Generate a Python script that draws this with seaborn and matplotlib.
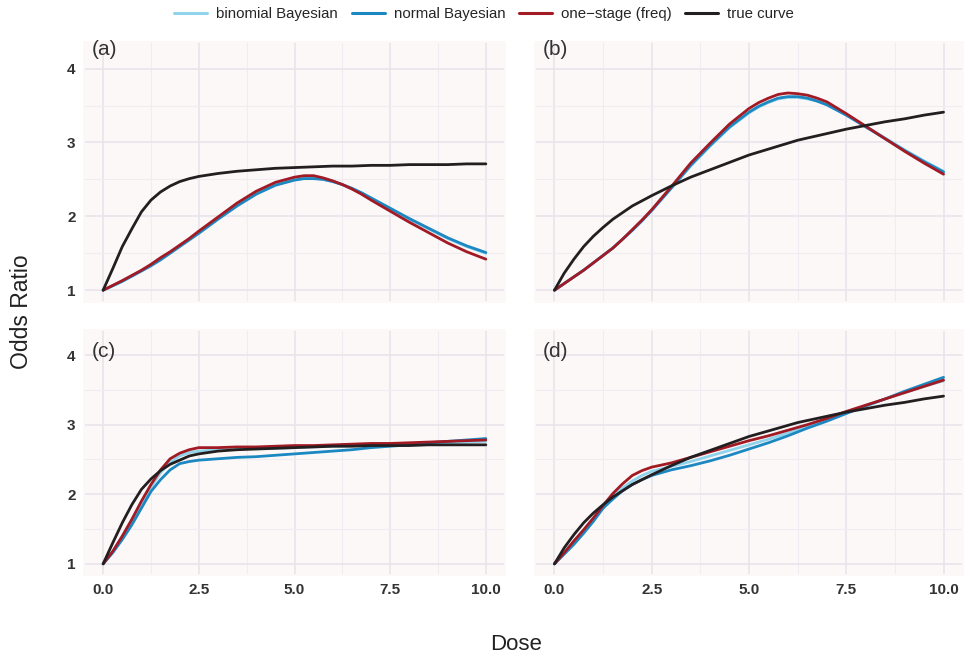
import numpy as np
import pandas as pd
import seaborn as sns
import matplotlib.pyplot as plt
from matplotlib.ticker import MultipleLocator, FormatStrFormatter

# dose grid shared by every curve (finer where the curves bend fast)
dose = [0, 0.25, 0.5, 0.75, 1, 1.25, 1.5, 1.75, 2, 2.25, 2.5,
        3, 3.5, 4, 4.5, 5, 5.25, 5.5, 5.75, 6, 6.25, 6.5, 6.75,
        7, 7.5, 8, 8.5, 9, 9.5, 10]

panels = ['(a)', '(b)', '(c)', '(d)']
methods = ['binomial Bayesian', 'normal Bayesian', 'one\u2212stage (freq)', 'true curve']

# (a)
binom_a = [1.00, 1.06, 1.12, 1.19, 1.26, 1.34, 1.42, 1.51, 1.60, 1.69, 1.78,
           1.97, 2.15, 2.31, 2.43, 2.50, 2.52, 2.52, 2.50, 2.47, 2.43, 2.37, 2.31,
           2.24, 2.10, 1.96, 1.83, 1.70, 1.59, 1.50]
normal_a = [1.00, 1.06, 1.12, 1.19, 1.26, 1.33, 1.41, 1.50, 1.59, 1.68, 1.77,
            1.96, 2.14, 2.30, 2.42, 2.49, 2.51, 2.51, 2.50, 2.47, 2.43, 2.38, 2.32,
            2.25, 2.11, 1.97, 1.84, 1.71, 1.60, 1.51]
freq_a = [1.00, 1.065, 1.13, 1.20, 1.27, 1.35, 1.44, 1.52, 1.61, 1.70, 1.80,
          1.99, 2.18, 2.34, 2.46, 2.53, 2.55, 2.55, 2.52, 2.48, 2.43, 2.37, 2.30,
          2.22, 2.07, 1.92, 1.78, 1.64, 1.52, 1.42]
true_a = [1.00, 1.29, 1.59, 1.83, 2.06, 2.22, 2.33, 2.41, 2.47, 2.51, 2.54,
          2.58, 2.61, 2.63, 2.65, 2.66, 2.665, 2.67, 2.675, 2.68, 2.68, 2.68, 2.685,
          2.69, 2.69, 2.70, 2.70, 2.70, 2.71, 2.71]

# (b)
binom_b = [1.00, 1.09, 1.18, 1.27, 1.37, 1.47, 1.57, 1.69, 1.81, 1.94, 2.08,
           2.38, 2.68, 2.95, 3.20, 3.40, 3.48, 3.54, 3.59, 3.61, 3.61, 3.59, 3.56,
           3.51, 3.37, 3.22, 3.06, 2.90, 2.75, 2.61]
normal_b = [1.00, 1.09, 1.18, 1.27, 1.37, 1.47, 1.57, 1.69, 1.81, 1.94, 2.08,
            2.38, 2.69, 2.96, 3.21, 3.41, 3.49, 3.55, 3.60, 3.62, 3.62, 3.60, 3.56,
            3.51, 3.37, 3.21, 3.05, 2.89, 2.74, 2.60]
freq_b = [1.00, 1.09, 1.18, 1.27, 1.37, 1.47, 1.57, 1.69, 1.82, 1.95, 2.09,
          2.40, 2.72, 2.99, 3.25, 3.46, 3.54, 3.60, 3.65, 3.67, 3.66, 3.64, 3.60,
          3.55, 3.39, 3.22, 3.05, 2.88, 2.72, 2.57]
true_b = [1.00, 1.23, 1.42, 1.59, 1.73, 1.85, 1.96, 2.05, 2.14, 2.21, 2.28,
          2.41, 2.53, 2.63, 2.73, 2.83, 2.87, 2.91, 2.95, 2.99, 3.03, 3.06, 3.09,
          3.12, 3.18, 3.23, 3.28, 3.32, 3.37, 3.41]

# (c)
binom_c = [1.00, 1.17, 1.37, 1.61, 1.85, 2.10, 2.31, 2.46, 2.55, 2.60, 2.62,
           2.64, 2.65, 2.66, 2.66, 2.67, 2.675, 2.68, 2.685, 2.69, 2.695, 2.70, 2.705,
           2.71, 2.71, 2.72, 2.73, 2.74, 2.75, 2.76]
normal_c = [1.00, 1.16, 1.35, 1.56, 1.80, 2.04, 2.21, 2.35, 2.44, 2.47, 2.49,
            2.51, 2.53, 2.54, 2.56, 2.58, 2.59, 2.60, 2.61, 2.62, 2.63, 2.64, 2.655,
            2.67, 2.69, 2.71, 2.74, 2.76, 2.78, 2.80]
freq_c = [1.00, 1.18, 1.40, 1.64, 1.90, 2.14, 2.35, 2.51, 2.59, 2.64, 2.67,
          2.67, 2.68, 2.68, 2.69, 2.70, 2.70, 2.70, 2.705, 2.71, 2.715, 2.72, 2.725,
          2.73, 2.73, 2.74, 2.75, 2.76, 2.77, 2.78]
true_c = [1.00, 1.30, 1.59, 1.85, 2.07, 2.22, 2.34, 2.43, 2.49, 2.55, 2.58,
          2.62, 2.64, 2.65, 2.66, 2.67, 2.675, 2.68, 2.685, 2.69, 2.69, 2.69, 2.695,
          2.70, 2.70, 2.70, 2.71, 2.71, 2.71, 2.71]

# (d)
binom_d = [1.00, 1.15, 1.30, 1.46, 1.63, 1.81, 1.97, 2.09, 2.19, 2.27, 2.33,
           2.40, 2.47, 2.55, 2.63, 2.71, 2.75, 2.79, 2.835, 2.88, 2.925, 2.97, 3.02,
           3.07, 3.17, 3.27, 3.37, 3.46, 3.55, 3.63]
normal_d = [1.00, 1.14, 1.28, 1.44, 1.61, 1.80, 1.93, 2.05, 2.14, 2.21, 2.27,
            2.35, 2.41, 2.48, 2.56, 2.65, 2.695, 2.74, 2.79, 2.84, 2.895, 2.95, 3.00,
            3.05, 3.16, 3.27, 3.37, 3.48, 3.58, 3.68]
freq_d = [1.00, 1.16, 1.33, 1.49, 1.66, 1.84, 2.01, 2.15, 2.27, 2.34, 2.39,
          2.45, 2.53, 2.61, 2.69, 2.77, 2.805, 2.84, 2.88, 2.92, 2.96, 3.00, 3.045,
          3.09, 3.19, 3.28, 3.37, 3.46, 3.55, 3.64]
true_d = [1.00, 1.23, 1.42, 1.59, 1.73, 1.85, 1.96, 2.05, 2.14, 2.21, 2.28,
          2.41, 2.53, 2.63, 2.73, 2.83, 2.87, 2.91, 2.95, 2.99, 3.03, 3.06, 3.09,
          3.12, 3.18, 3.23, 3.28, 3.32, 3.37, 3.41]

curves = {
    '(a)': [binom_a, normal_a, freq_a, true_a],
    '(b)': [binom_b, normal_b, freq_b, true_b],
    '(c)': [binom_c, normal_c, freq_c, true_c],
    '(d)': [binom_d, normal_d, freq_d, true_d],
}

rows = []
for p in panels:
    for m, vals in zip(methods, curves[p]):
        for d, v in zip(dose, vals):
            rows.append({'panel': p, 'method': m, 'Dose': d, 'OR': v})
df = pd.DataFrame(rows)

palette = {methods[0]: '#90D4EC', methods[1]: '#1C88C2',
           methods[2]: '#A11A24', methods[3]: '#231F20'}

sns.set_theme(style='whitegrid', rc={
    'axes.facecolor': '#FDF8F8',
    'axes.edgecolor': '#FDF8F8',
    'grid.color': '#EAE8EE',
    'grid.linewidth': 1.0,
})
plt.rcParams['font.family'] = ['Liberation Sans', 'DejaVu Sans']

W, H = 964, 657
fig = plt.figure(figsize=(W / 100, H / 100), dpi=100)

# panel boxes in pixels: left, top, right, bottom
boxes = {'(a)': (84, 42, 505, 302), '(b)': (535, 42, 963, 302),
         '(c)': (84, 330, 505, 575), '(d)': (535, 330, 963, 575)}
lab_top = {'(a)': 40, '(b)': 40, '(c)': 342, '(d)': 342}

for p in panels:
    l, t, r, b = boxes[p]
    ax = fig.add_axes([l / W, 1 - b / H, (r - l) / W, (b - t) / H])
    sub = df[df['panel'] == p]
    sns.lineplot(data=sub, x='Dose', y='OR', hue='method', hue_order=methods,
                 palette=palette, linewidth=2.0, ax=ax, legend=False)
    ax.set_xlim(-0.5, 10.5)
    ax.set_ylim(0.84, 4.36)
    ax.xaxis.set_major_locator(MultipleLocator(2.5))
    ax.xaxis.set_minor_locator(MultipleLocator(1.25))
    ax.yaxis.set_major_locator(MultipleLocator(1))
    ax.yaxis.set_minor_locator(MultipleLocator(0.5))
    ax.xaxis.set_major_formatter(FormatStrFormatter('%.1f'))
    ax.grid(which='major', color='#E6E4EA', linewidth=1.1)
    ax.grid(which='minor', color='#EFEDF1', linewidth=0.8)
    ax.tick_params(which='both', length=0, labelsize=11, colors='#333333', pad=6)
    for lab in ax.get_xticklabels() + ax.get_yticklabels():
        lab.set_fontweight('bold')
    ax.set_xlabel('')
    ax.set_ylabel('')
    if p in ('(a)', '(b)'):
        ax.tick_params(axis='x', labelbottom=False)
    if p in ('(b)', '(d)'):
        ax.tick_params(axis='y', labelleft=False)
    ax.text(0.018, 1 - (lab_top[p] - t) / (b - t), p, transform=ax.transAxes,
            ha='left', va='top', fontsize=15, color='#333333')

fig.text(22 / W, 1 - 312 / H, 'Odds Ratio', rotation=90, ha='center', va='center',
         fontsize=16.5, color='#222222')
fig.text(516 / W, 1 - 645 / H, 'Dose', ha='center', va='center',
         fontsize=16, color='#222222')

handles = [plt.Line2D([], [], color=palette[m], linewidth=2.2) for m in methods]
fig.legend(handles, methods, loc='center', bbox_to_anchor=(484 / W, 1 - 14 / H),
           ncol=4, frameon=False, fontsize=10.8, handlelength=2.2,
           columnspacing=0.9, handletextpad=0.6)

fig.savefig('out.png', dpi=100, facecolor='white')
